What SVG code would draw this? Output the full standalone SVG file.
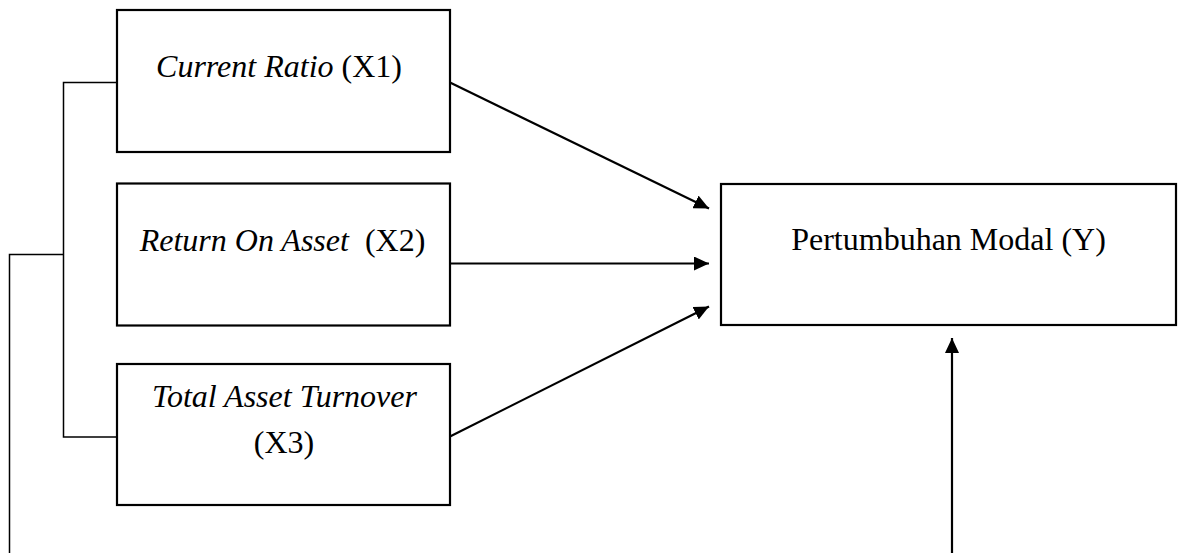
<svg xmlns="http://www.w3.org/2000/svg" width="1179" height="553" viewBox="0 0 1179 553">
<style>
.box{fill:#fff;stroke:#000;stroke-width:2.2}
.t{font-family:"Liberation Serif","Times New Roman",serif;font-size:32px;fill:#000;white-space:pre}
.i{font-style:italic}
.br{fill:none;stroke:#000;stroke-width:1.5}
.ar{fill:none;stroke:#000;stroke-width:2.2}
</style>
<defs>
<marker id="ah" markerWidth="15" markerHeight="14" refX="15" refY="7" orient="auto" markerUnits="userSpaceOnUse">
<path d="M0,0 L15,7 L0,14 Z" fill="#000"/>
</marker>
</defs>
<rect width="1179" height="553" fill="#fff"/>
<g id="connectors">
<path class="br" d="M117,82.5 H63.5 V437 H117"/>
<path class="br" d="M9.5,553 V254.5 H63.5"/>
<line class="ar" x1="450" y1="82.5" x2="709" y2="208.5" marker-end="url(#ah)"/>
<line class="ar" x1="450" y1="263.5" x2="709" y2="263.5" marker-end="url(#ah)"/>
<line class="ar" x1="450" y1="436.5" x2="709" y2="306.5" marker-end="url(#ah)"/>
<line class="ar" x1="952" y1="553" x2="952" y2="338" marker-end="url(#ah)"/>
</g>
<g id="x1">
<rect class="box" x="117" y="10" width="333" height="142"/>
<text class="t" x="279" y="77" text-anchor="middle"><tspan class="i">Current Ratio</tspan> (X1)</text>
</g>
<g id="x2">
<rect class="box" x="117" y="183.5" width="333" height="142"/>
<text class="t" x="282.5" y="251" text-anchor="middle"><tspan class="i">Return On Asset</tspan>  (X2)</text>
</g>
<g id="x3">
<rect class="box" x="117" y="364" width="333" height="141"/>
<text class="t i" x="284.5" y="407" text-anchor="middle">Total Asset Turnover</text>
<text class="t" x="284" y="453" text-anchor="middle">(X3)</text>
</g>
<g id="y">
<rect class="box" x="721" y="184" width="455" height="141"/>
<text class="t" x="948.5" y="250" text-anchor="middle">Pertumbuhan Modal (Y)</text>
</g>
</svg>
